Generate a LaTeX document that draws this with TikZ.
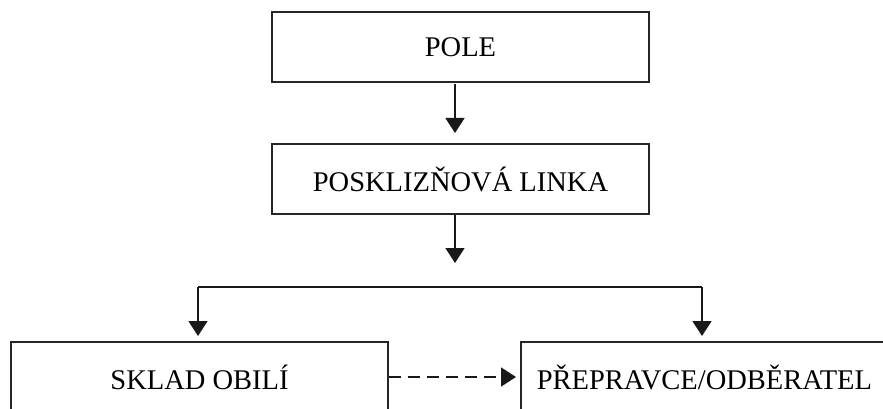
\documentclass[tikz,border=0pt]{standalone}
\usepackage{fontspec}
\setmainfont{Liberation Serif}
\usetikzlibrary{arrows.meta}
\begin{document}
\begin{tikzpicture}[x=1pt,y=-1pt,
  box/.style={draw=black!85,line width=1.6pt,inner sep=0pt,font=\fontsize{28.5}{33}\selectfont},
  arr/.style={draw=black!90,line width=1.6pt,-{Triangle[width=19pt,length=15pt]}},
  ln/.style={draw=black!90,line width=1.6pt}]
\useasboundingbox (0,0) rectangle (883,409);
\clip (0,0) rectangle (883,409);
\node[box,minimum width=377pt,minimum height=70pt] (pole) at (460.5,47) {POLE};
\node[box,minimum width=377pt,minimum height=70pt] (link) at (460.5,179) {POSKLIZŇOVÁ LINKA};
\node[box,minimum width=377pt,minimum height=70pt] (sklad) at (199.5,377) {SKLAD OBILÍ};
\node[box,anchor=west,minimum height=70pt,text width=380pt,align=left,inner xsep=16pt] (prep) at (520,377) {PŘEPRAVCE/ODBĚRATEL};
\coordinate (a1) at (455,84);
\coordinate (a1e) at (455,133);
\coordinate (a2) at (455,215);
\coordinate (a2e) at (455,263);
\coordinate (jl) at (198,287);
\coordinate (jr) at (702,287);
\coordinate (jle) at (198,336);
\coordinate (jre) at (702,336);
\draw[arr] (a1) -- (a1e);
\draw[arr] (a2) -- (a2e);
\draw[ln] (jl) -- (jr);
\draw[arr] (jl) -- (jle);
\draw[arr] (jr) -- (jre);
\draw[arr,dash pattern=on 12pt off 7pt,shorten >=4pt] (sklad.east) -- (prep.west);
\end{tikzpicture}
\end{document}
